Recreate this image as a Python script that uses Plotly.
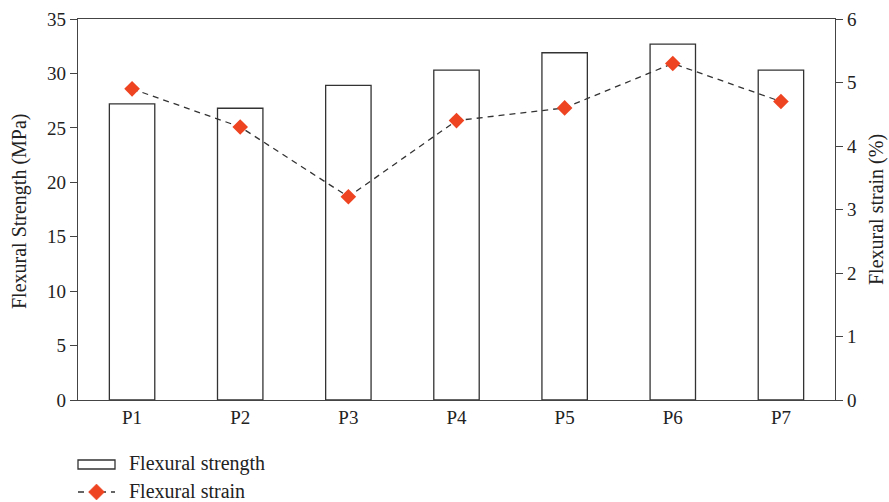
import plotly.graph_objects as go

categories = ["P1", "P2", "P3", "P4", "P5", "P6", "P7"]
flexural_strength = [27.2, 26.8, 28.9, 30.3, 31.9, 32.7, 30.3]
flexural_strain = [4.9, 4.3, 3.2, 4.4, 4.6, 5.3, 4.7]
y1_ticks = [0, 5, 10, 15, 20, 25, 30, 35]
y2_ticks = [0, 1, 2, 3, 4, 5, 6]
series_names = ["Flexural strength", "Flexural strain"]

FONT = "Liberation Serif"
AX = "#444444"
TXT = "#222222"
RED = "#EE4422"
W, H = 889, 502
L, R, T, B = 78, 54, 19, 102
PW, PH = W - L - R, H - T - B
TICK_SIZE = 19
TEXT_SIZE = 20


def px(x):
    return (x - L) / PW


def py(y):
    return (H - B - y) / PH


fig = go.Figure()
fig.add_trace(go.Bar(
    x=categories, y=flexural_strength, name=series_names[0],
    width=0.42, marker=dict(color="white", line=dict(color="#333333", width=1.3)),
    yaxis="y",
))
fig.add_trace(go.Scatter(
    x=categories, y=flexural_strain, name=series_names[1],
    mode="lines+markers",
    line=dict(color="#333333", width=1.3, dash="6px,5px"),
    marker=dict(symbol="diamond", size=12, color=RED),
    yaxis="y2",
))

shapes = [
    # legend: bar symbol
    dict(type="rect", xref="paper", yref="paper", x0=px(78), x1=px(115),
         y0=py(469), y1=py(460), line=dict(color="#333333", width=1.3),
         fillcolor="white"),
    # legend: dashed line symbol
    dict(type="line", xref="paper", yref="paper", x0=px(78), x1=px(115),
         y0=py(492), y1=py(492), line=dict(color="#333333", width=1.3, dash="6px,5px")),
    # legend: diamond
    dict(type="path", xref="paper", yref="paper",
         path="M {a},{b} L {c},{d} L {a},{e} L {f},{d} Z".format(
             a=px(96.5), b=py(484), c=px(104.5), d=py(492), e=py(500), f=px(88.5)),
         line=dict(color=RED, width=0.5), fillcolor=RED),
]

annotations = [
    dict(text=series_names[0], xref="paper", yref="paper", x=px(127), y=py(463),
         xanchor="left", yanchor="middle", showarrow=False,
         font=dict(family=FONT, size=TEXT_SIZE, color=TXT)),
    dict(text=series_names[1], xref="paper", yref="paper", x=px(127), y=py(491),
         xanchor="left", yanchor="middle", showarrow=False,
         font=dict(family=FONT, size=TEXT_SIZE, color=TXT)),
    dict(text="Flexural Strength (MPa)", xref="paper", yref="paper", x=px(19),
         y=py(211), xanchor="center", yanchor="middle", textangle=-90, showarrow=False,
         font=dict(family=FONT, size=TEXT_SIZE, color=TXT)),
    dict(text="Flexural strain (%)", xref="paper", yref="paper", x=px(877),
         y=py(210), xanchor="center", yanchor="middle", textangle=-90, showarrow=False,
         font=dict(family=FONT, size=TEXT_SIZE, color=TXT)),
]

fig.update_layout(
    width=W, height=H,
    paper_bgcolor="white", plot_bgcolor="white",
    margin=dict(l=L, r=R, t=T, b=B, autoexpand=False),
    font=dict(family=FONT, size=TICK_SIZE, color=TXT),
    showlegend=False,
    shapes=shapes,
    annotations=annotations,
    xaxis=dict(range=[-0.5, 6.5], showline=True, linecolor=AX, linewidth=1.3,
               mirror=True, ticks="", showgrid=False, zeroline=False,
               tickfont=dict(size=TICK_SIZE), automargin=False),
    yaxis=dict(range=[0, 35], tickvals=y1_ticks, showline=True, linecolor=AX,
               linewidth=1.3, ticks="outside", ticklen=7, tickcolor=AX,
               showgrid=False, zeroline=False, tickfont=dict(size=TICK_SIZE),
               automargin=False),
    yaxis2=dict(range=[0, 6], tickvals=y2_ticks, overlaying="y", side="right",
                showline=True, linecolor=AX, linewidth=1.3, ticks="outside",
                ticklen=7, tickcolor=AX, showgrid=False, zeroline=False,
                tickfont=dict(size=TICK_SIZE), automargin=False),
)

fig.write_html(
    "out.html",
    config={"displayModeBar": False},
    post_script="document.body.style.margin='0';document.body.style.overflow='hidden';",
)
